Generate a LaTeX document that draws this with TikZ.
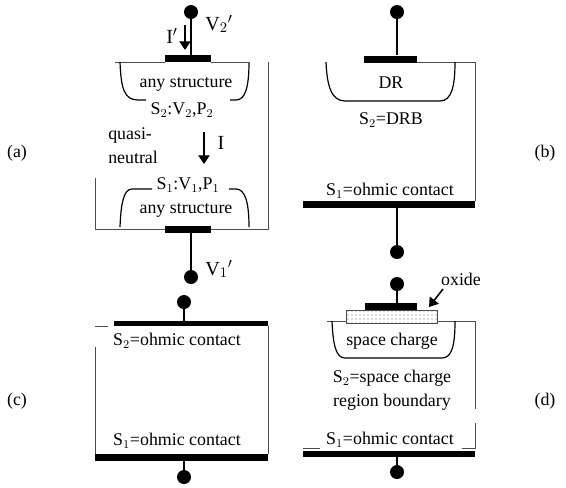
\documentclass[tikz,border=0pt]{standalone}
\usepackage{fontspec}
\setmainfont{Liberation Serif}
\usepackage{tikz}
\usetikzlibrary{calc}
\usetikzlibrary{positioning, patterns, arrows.meta}

\begin{document}
\begin{tikzpicture}[x=0.75pt,y=-0.75pt,
                    lead/.style={line width=1pt},
                    wall/.style={line width=0.55pt,draw=black!70},
                    well/.style={line width=0.9pt},
                    contact/.style={fill=black,draw=none,inner sep=0pt,minimum height=5.25pt},
                    pin/.style={circle,fill=black,draw=none,inner sep=0pt,minimum size=10.5pt},
                    txt/.style={font=\fontsize{13.4}{15}\selectfont,inner sep=0pt},
                    big/.style={font=\fontsize{15}{16}\selectfont,inner sep=0pt},
                    current/.style={line width=0.9pt,-{Triangle[length=6.5pt,width=8.5pt]}}]

  \useasboundingbox (0,0) rectangle (566,487);

  % side labels
  \node[txt] (la) at (17,153) {(a)};
  \node[txt] (lb) at (545,153) {(b)};
  \node[txt] (lc) at (17,401) {(c)};
  \node[txt] (ld) at (545,401) {(d)};

  % panel a
  \node[pin] (a2) at (191,12) {};
  \node[contact,minimum width=34.5pt] (a2c) at (188,58.5) {};
  \node[contact,minimum width=34.5pt] (a1c) at (188,229.5) {};
  \node[pin] (a1) at (191,277) {};
  \draw[lead] (a2) -- (a2 |- a2c.north);
  \draw[lead] (a1) -- (a1 |- a1c.south);
  \coordinate (a2l) at (115,62);
  \coordinate (a2r) at (248,62);
  \coordinate (a1l) at (95,229);
  \coordinate (a1r) at (268,229);
  \coordinate (atr) at (268,62);
  \coordinate (a1t) at (95,178);
  \draw[wall] (a2l) -- (a2l -| a2c.west);
  \draw[wall] (a2r -| a2c.east) -- (a2r);
  \draw[wall] (atr) -- (a1r) -- (a1r -| a1c.east);
  \draw[wall] (a1l -| a1c.west) -- (a1l) -- (a1t);
  \draw[well] (120,62) .. controls (121,88) and (124,100) .. (138,100) -- (146,100);
  \draw[well] (249,62) .. controls (249,88) and (245,100) .. (236,100) -- (230,100);
  \draw[well] (120,227) .. controls (121,202) and (124,189) .. (132,189) -- (152,189);
  \draw[well] (249,227) .. controls (249,202) and (245,189) .. (236,189) -- (229,189);
  \node[txt] (a2s) at (186,84) {any structure};
  \node[txt] (a2n) at (182,110) {S$_2$:V$_2$,P$_2$};
  \node[txt,align=left,anchor=west] (aq) at (108,146) {quasi-\\[3pt]neutral};
  \node[txt] (a1n) at (188,185) {S$_1$:V$_1$,P$_1$};
  \node[txt] (a1s) at (186,210) {any structure};
  \node[big] (a2v) at (219,24) {V$_2$$'$};
  \node[big] (a1v) at (219,269) {V$_1$$'$};
  \node[big] (aip) at (172,36) {I$'$};
  \node[big] (ai) at (221,143) {I};
  \coordinate (aips) at (185,25);
  \coordinate (aipe) at (185,50);
  \coordinate (ais) at (204,132);
  \coordinate (aie) at (204,164);
  \draw[current] (aips) -- (aipe);
  \draw[current] (ais) -- (aie);

  % panel b
  \node[pin] (b2) at (397,12) {};
  \node[contact,minimum width=39.75pt] (b2c) at (390.5,59) {};
  \node[contact,minimum width=129pt] (b1c) at (389,204.5) {};
  \node[pin] (b1) at (397,252) {};
  \draw[lead] (b2) -- (b2 |- b2c.north);
  \draw[lead] (b1) -- (b1 |- b1c.south);
  \coordinate (b2r) at (475,62);
  \draw[wall] (b2r -| b2c.east) -- (b2r) -- (b2r |- b1c.north);
  \draw[well] (326,62) .. controls (327,85) and (331,101) .. (345,101) -- (440,101) .. controls (452,101) and (455,85) .. (455,62);
  \node[txt] (bd) at (391,83) {DR};
  \node[txt] (bs) at (391,120) {S$_2$=DRB};
  \node[txt] (bo) at (390,191) {S$_1$=ohmic contact};

  % panel c
  \node[pin] (c2) at (184,302) {};
  \node[contact,minimum width=115.5pt,minimum height=4pt] (c2c) at (191,323.5) {};
  \node[contact,minimum width=129.75pt] (c1c) at (181.5,457.5) {};
  \node[pin] (c1) at (184,477) {};
  \draw[lead] (c2) -- (c2 |- c2c.north);
  \draw[lead] (c1) -- (c1 |- c1c.south);
  \coordinate (cl) at (95,326);
  \coordinate (clr) at (108,326);
  \coordinate (clb) at (95,347);
  \coordinate (crt) at (268,326);
  \draw[wall] (cl) -- (clr);
  \draw[wall] (clb) -- (clb |- c1c.north);
  \draw[wall] (crt) -- (crt |- c1c.north);
  \node[txt] (cs2) at (177,341) {S$_2$=ohmic contact};
  \node[txt] (cs1) at (177,441) {S$_1$=ohmic contact};

  % panel d
  \node[pin] (d2) at (397,284) {};
  \node[contact,minimum width=39pt] (d2c) at (391,306.5) {};
  \node[draw=black!70,line width=0.4pt,pattern=dots,pattern color=black!60,inner sep=0pt,minimum width=68.25pt,minimum height=9.75pt] (dox) at (391.5,316.5) {};
  \node[contact,minimum width=129pt,minimum height=4.5pt] (d1c) at (389,454) {};
  \node[pin] (d1) at (397,472) {};
  \draw[lead] (d2) -- (d2 |- d2c.north);
  \draw[lead] (d1) -- (d1 |- d1c.south);
  \coordinate (dtl) at (327,321);
  \coordinate (dtr) at (475,321);
  \coordinate (drb) at (475,409);
  \coordinate (drc) at (475,423);
  \coordinate (drs) at (475,448);
  \coordinate (drm) at (462,448);
  \coordinate (dls) at (303,448);
  \coordinate (dlm) at (320,448);
  \draw[wall] (dtl) -- (dtl -| dox.west);
  \draw[wall] (dtr -| dox.east) -- (dtr) -- (drb);
  \draw[wall] (drc) -- (drs) -- (drm);
  \draw[wall] (dls) -- (dlm);
  \draw[well] (332,321) .. controls (333,345) and (336,358) .. (345,358) -- (442,358) .. controls (452,358) and (455,345) .. (455,321);
  \node[txt] (dsc) at (392,341) {space charge};
  \node[txt,align=center] (ds2) at (392,390) {S$_2$=space charge\\[3pt]region boundary};
  \node[txt] (ds1) at (390,440) {S$_1$=ohmic contact};
  \node[txt] (dol) at (461,279) {oxide};
  \coordinate (dos) at (443,289);
  \coordinate (doe) at (429,307);
  \draw[current,line width=1.2pt] (dos) -- (doe);
\end{tikzpicture}
\end{document}
